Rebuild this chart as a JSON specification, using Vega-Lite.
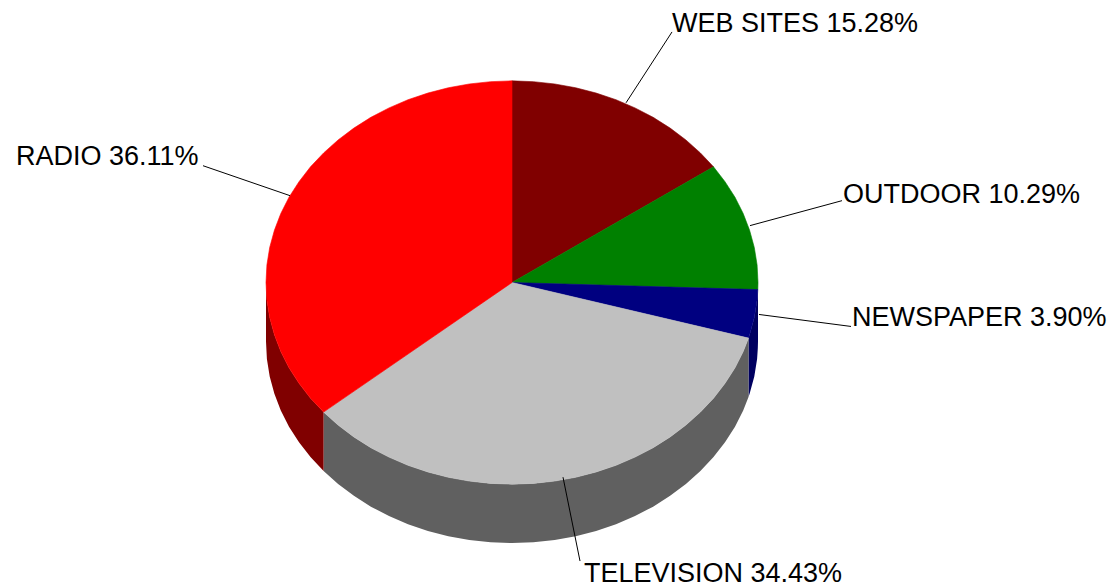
{"$schema":"https://vega.github.io/schema/vega-lite/v6.json","width":1113,"height":587,"autosize":{"type":"fit","contains":"padding"},"padding":0,"background":"white","config":{"view":{"stroke":null}},
"datasets":{
"walls":[
{"slice":"NEWSPAPER","x":758,"y":283,"y2":342},{"slice":"NEWSPAPER","x":757.8,"y":290.1,"y2":349.1},{"slice":"NEWSPAPER","x":757.1,"y":300.6,"y2":359.6},{"slice":"NEWSPAPER","x":754.3,"y":318.1,"y2":377.1},{"slice":"NEWSPAPER","x":749.6,"y":335.3,"y2":394.3},{"slice":"NEWSPAPER","x":748.5,"y":338.7,"y2":397.7},
{"slice":"TELEVISION","x":748.5,"y":338.7,"y2":397.7},{"slice":"TELEVISION","x":743.2,"y":352.1,"y2":411.1},{"slice":"TELEVISION","x":735,"y":368.4,"y2":427.4},{"slice":"TELEVISION","x":725,"y":384,"y2":443},{"slice":"TELEVISION","x":713.5,"y":398.9,"y2":457.9},{"slice":"TELEVISION","x":700.4,"y":412.8,"y2":471.8},{"slice":"TELEVISION","x":685.9,"y":425.8,"y2":484.8},{"slice":"TELEVISION","x":670.1,"y":437.7,"y2":496.7},{"slice":"TELEVISION","x":653.1,"y":448.5,"y2":507.5},{"slice":"TELEVISION","x":635,"y":457.9,"y2":516.9},{"slice":"TELEVISION","x":616,"y":466.1,"y2":525.1},{"slice":"TELEVISION","x":596.1,"y":472.8,"y2":531.8},{"slice":"TELEVISION","x":575.7,"y":478.1,"y2":537.1},{"slice":"TELEVISION","x":554.7,"y":481.9,"y2":540.9},{"slice":"TELEVISION","x":533.4,"y":484.2,"y2":543.2},{"slice":"TELEVISION","x":512,"y":485,"y2":544},{"slice":"TELEVISION","x":490.6,"y":484.2,"y2":543.2},{"slice":"TELEVISION","x":469.3,"y":481.9,"y2":540.9},{"slice":"TELEVISION","x":448.3,"y":478.1,"y2":537.1},{"slice":"TELEVISION","x":427.9,"y":472.8,"y2":531.8},{"slice":"TELEVISION","x":408,"y":466.1,"y2":525.1},{"slice":"TELEVISION","x":389,"y":457.9,"y2":516.9},{"slice":"TELEVISION","x":370.9,"y":448.5,"y2":507.5},{"slice":"TELEVISION","x":353.9,"y":437.7,"y2":496.7},{"slice":"TELEVISION","x":338.1,"y":425.8,"y2":484.8},{"slice":"TELEVISION","x":323.6,"y":412.8,"y2":471.8},
{"slice":"RADIO","x":323.6,"y":412.8,"y2":471.8},{"slice":"RADIO","x":310.5,"y":398.9,"y2":457.9},{"slice":"RADIO","x":299,"y":384,"y2":443},{"slice":"RADIO","x":289,"y":368.4,"y2":427.4},{"slice":"RADIO","x":280.8,"y":352.1,"y2":411.1},{"slice":"RADIO","x":274.4,"y":335.3,"y2":394.3},{"slice":"RADIO","x":269.7,"y":318.1,"y2":377.1},{"slice":"RADIO","x":266.9,"y":300.6,"y2":359.6},{"slice":"RADIO","x":266,"y":283,"y2":342}
],
"tops":[
{"slice":"WEB SITES","o":0,"x":512,"y":283},{"slice":"WEB SITES","o":1,"x":512,"y":81},{"slice":"WEB SITES","o":2,"x":533.4,"y":81.8},{"slice":"WEB SITES","o":3,"x":554.7,"y":84.1},{"slice":"WEB SITES","o":4,"x":575.7,"y":87.9},{"slice":"WEB SITES","o":5,"x":596.1,"y":93.2},{"slice":"WEB SITES","o":6,"x":616,"y":99.9},{"slice":"WEB SITES","o":7,"x":635,"y":108.1},{"slice":"WEB SITES","o":8,"x":653.1,"y":117.5},{"slice":"WEB SITES","o":9,"x":670.1,"y":128.3},{"slice":"WEB SITES","o":10,"x":685.9,"y":140.2},{"slice":"WEB SITES","o":11,"x":700.4,"y":153.2},{"slice":"WEB SITES","o":12,"x":713.5,"y":167.1},
{"slice":"OUTDOOR","o":0,"x":512,"y":283},{"slice":"OUTDOOR","o":1,"x":713.5,"y":167.1},{"slice":"OUTDOOR","o":2,"x":725,"y":182},{"slice":"OUTDOOR","o":3,"x":735,"y":197.6},{"slice":"OUTDOOR","o":4,"x":743.2,"y":213.9},{"slice":"OUTDOOR","o":5,"x":749.6,"y":230.7},{"slice":"OUTDOOR","o":6,"x":754.3,"y":247.9},{"slice":"OUTDOOR","o":7,"x":757.1,"y":265.4},{"slice":"OUTDOOR","o":8,"x":758,"y":283},{"slice":"OUTDOOR","o":9,"x":757.8,"y":290.1},
{"slice":"NEWSPAPER","o":0,"x":512,"y":283},{"slice":"NEWSPAPER","o":1,"x":757.8,"y":290.1},{"slice":"NEWSPAPER","o":2,"x":757.1,"y":300.6},{"slice":"NEWSPAPER","o":3,"x":754.3,"y":318.1},{"slice":"NEWSPAPER","o":4,"x":749.6,"y":335.3},{"slice":"NEWSPAPER","o":5,"x":748.5,"y":338.7},
{"slice":"TELEVISION","o":0,"x":512,"y":283},{"slice":"TELEVISION","o":1,"x":748.5,"y":338.7},{"slice":"TELEVISION","o":2,"x":743.2,"y":352.1},{"slice":"TELEVISION","o":3,"x":735,"y":368.4},{"slice":"TELEVISION","o":4,"x":725,"y":384},{"slice":"TELEVISION","o":5,"x":713.5,"y":398.9},{"slice":"TELEVISION","o":6,"x":700.4,"y":412.8},{"slice":"TELEVISION","o":7,"x":685.9,"y":425.8},{"slice":"TELEVISION","o":8,"x":670.1,"y":437.7},{"slice":"TELEVISION","o":9,"x":653.1,"y":448.5},{"slice":"TELEVISION","o":10,"x":635,"y":457.9},{"slice":"TELEVISION","o":11,"x":616,"y":466.1},{"slice":"TELEVISION","o":12,"x":596.1,"y":472.8},{"slice":"TELEVISION","o":13,"x":575.7,"y":478.1},{"slice":"TELEVISION","o":14,"x":554.7,"y":481.9},{"slice":"TELEVISION","o":15,"x":533.4,"y":484.2},{"slice":"TELEVISION","o":16,"x":512,"y":485},{"slice":"TELEVISION","o":17,"x":490.6,"y":484.2},{"slice":"TELEVISION","o":18,"x":469.3,"y":481.9},{"slice":"TELEVISION","o":19,"x":448.3,"y":478.1},{"slice":"TELEVISION","o":20,"x":427.9,"y":472.8},{"slice":"TELEVISION","o":21,"x":408,"y":466.1},{"slice":"TELEVISION","o":22,"x":389,"y":457.9},{"slice":"TELEVISION","o":23,"x":370.9,"y":448.5},{"slice":"TELEVISION","o":24,"x":353.9,"y":437.7},{"slice":"TELEVISION","o":25,"x":338.1,"y":425.8},{"slice":"TELEVISION","o":26,"x":323.6,"y":412.8},
{"slice":"RADIO","o":0,"x":512,"y":283},{"slice":"RADIO","o":1,"x":323.6,"y":412.8},{"slice":"RADIO","o":2,"x":310.5,"y":398.9},{"slice":"RADIO","o":3,"x":299,"y":384},{"slice":"RADIO","o":4,"x":289,"y":368.4},{"slice":"RADIO","o":5,"x":280.8,"y":352.1},{"slice":"RADIO","o":6,"x":274.4,"y":335.3},{"slice":"RADIO","o":7,"x":269.7,"y":318.1},{"slice":"RADIO","o":8,"x":266.9,"y":300.6},{"slice":"RADIO","o":9,"x":266,"y":283},{"slice":"RADIO","o":10,"x":266.9,"y":265.4},{"slice":"RADIO","o":11,"x":269.7,"y":247.9},{"slice":"RADIO","o":12,"x":274.4,"y":230.7},{"slice":"RADIO","o":13,"x":280.8,"y":213.9},{"slice":"RADIO","o":14,"x":289,"y":197.6},{"slice":"RADIO","o":15,"x":299,"y":182},{"slice":"RADIO","o":16,"x":310.5,"y":167.1},{"slice":"RADIO","o":17,"x":323.6,"y":153.2},{"slice":"RADIO","o":18,"x":338.1,"y":140.2},{"slice":"RADIO","o":19,"x":353.9,"y":128.3},{"slice":"RADIO","o":20,"x":370.9,"y":117.5},{"slice":"RADIO","o":21,"x":389,"y":108.1},{"slice":"RADIO","o":22,"x":408,"y":99.9},{"slice":"RADIO","o":23,"x":427.9,"y":93.2},{"slice":"RADIO","o":24,"x":448.3,"y":87.9},{"slice":"RADIO","o":25,"x":469.3,"y":84.1},{"slice":"RADIO","o":26,"x":490.6,"y":81.8},{"slice":"RADIO","o":27,"x":512,"y":81}
],
"labels":[
{"label":"WEB SITES 15.28%","x":672,"y":32,"x1":672,"y1":32,"x2":626,"y2":103},
{"label":"OUTDOOR 10.29%","x":843,"y":203,"x1":842,"y1":201,"x2":750,"y2":226},
{"label":"NEWSPAPER 3.90%","x":852,"y":327,"x1":851,"y1":327,"x2":759,"y2":315},
{"label":"TELEVISION 34.43%","x":584,"y":583,"x1":580,"y1":562,"x2":563,"y2":478},
{"label":"RADIO 36.11%","x":16,"y":165,"x1":203,"y1":166,"x2":290,"y2":196}
]},
"layer":[
{"data":{"name":"walls"},"mark":{"type":"area","interpolate":"linear"},
"encoding":{"x":{"field":"x","type":"quantitative","scale":{"domain":[0,1113],"nice":false,"zero":false},"axis":null},"y":{"field":"y","type":"quantitative","scale":{"domain":[587,0],"nice":false,"zero":false},"axis":null},"y2":{"field":"y2"},
"color":{"field":"slice","type":"nominal","legend":null,"scale":{"domain":["NEWSPAPER","TELEVISION","RADIO"],"range":["#000060","#606060","#800000"]}}}},
{"data":{"name":"tops"},"mark":{"type":"line","interpolate":"linear-closed","strokeWidth":0.6},
"encoding":{"x":{"field":"x","type":"quantitative","axis":null},"y":{"field":"y","type":"quantitative","axis":null},"order":{"field":"o","type":"quantitative"},
"fill":{"field":"slice","type":"nominal","legend":null,"scale":{"domain":["WEB SITES","OUTDOOR","NEWSPAPER","TELEVISION","RADIO"],"range":["#800000","#008000","#000080","#c0c0c0","#ff0000"]}},
"stroke":{"field":"slice","type":"nominal","legend":null,"scale":{"domain":["WEB SITES","OUTDOOR","NEWSPAPER","TELEVISION","RADIO"],"range":["#800000","#008000","#000080","#c0c0c0","#ff0000"]}}}},
{"data":{"name":"labels"},"mark":{"type":"rule","color":"#000000","strokeWidth":1},
"encoding":{"x":{"field":"x1","type":"quantitative","axis":null},"y":{"field":"y1","type":"quantitative","axis":null},"x2":{"field":"x2"},"y2":{"field":"y2"}}},
{"data":{"name":"labels"},"mark":{"type":"text","align":"left","baseline":"alphabetic","font":"Liberation Sans","fontSize":27,"color":"#000000"},
"encoding":{"x":{"field":"x","type":"quantitative","axis":null},"y":{"field":"y","type":"quantitative","axis":null},"text":{"field":"label"}}}
],
"resolve":{"scale":{"color":"independent"}}}
